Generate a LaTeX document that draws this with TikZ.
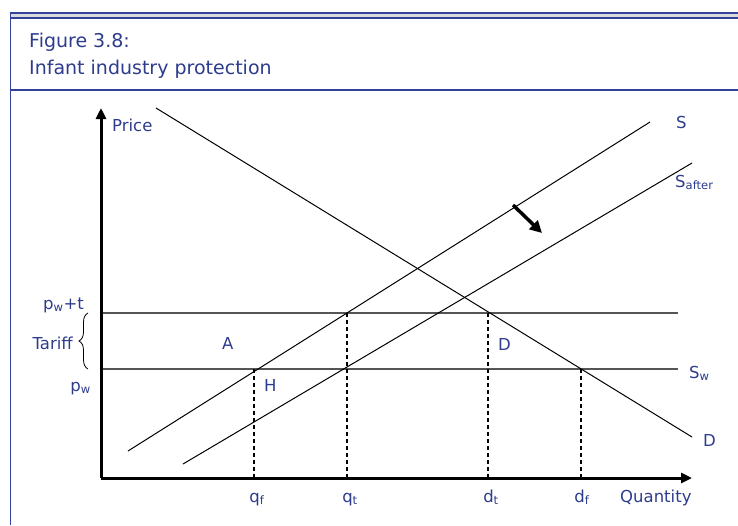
\documentclass[tikz,border=0pt]{standalone}
\usepackage{fontspec}
\setmainfont{DejaVu Sans}
\usetikzlibrary{arrows.meta,decorations.pathreplacing}
\definecolor{txtblue}{RGB}{45,60,140}
\definecolor{frameblue}{RGB}{50,65,155}
\definecolor{bandgray}{RGB}{218,218,218}
\definecolor{hgray}{RGB}{85,85,85}
\tikzset{
  lbl/.style={text=txtblue,font=\fontsize{16.5}{19}\selectfont,inner sep=0pt,anchor=base west},
  lblc/.style={lbl,anchor=base},
  lble/.style={lbl,anchor=base east},
  ttl/.style={text=txtblue,font=\fontsize{19}{22}\selectfont,inner sep=0pt,anchor=base west},
  curve/.style={black,line width=1pt},
  hline/.style={hgray,line width=1.5pt},
  dropline/.style={black,line width=2pt,dash pattern=on 4pt off 3pt},
  axis/.style={black,line width=3pt,-{Triangle[length=11pt,width=10pt]}},
  shiftarrow/.style={black,line width=3.5pt,-{Triangle[length=12pt,width=12pt]}},
  framebar/.style={frameblue,line width=1.2pt}
}
\begin{document}
\begin{tikzpicture}[x=1pt,y=-1pt]
\useasboundingbox (0,0) rectangle (738,525);
% frame
\fill[bandgray] (10,13) rectangle (738,18);
\draw[framebar] (10,13) -- (738,13);
\draw[framebar] (10,18) -- (738,18);
\draw[framebar] (10,90) -- (738,90);
\draw[framebar] (10.5,13) -- (10.5,525);
\node[ttl] (t1) at (29,47) {Figure 3.8:};
\node[ttl] (t2) at (29,74) {Infant industry protection};
% coordinates
\coordinate (O) at (101,478);
\coordinate (ytop) at (101,108);
\coordinate (xend) at (692,478);
\coordinate (Ds) at (156,108);
\coordinate (De) at (692,437);
\coordinate (Ss) at (128,451);
\coordinate (Se) at (650,122);
\coordinate (SAs) at (183,464);
\coordinate (SAe) at (692,163);
\coordinate (PTl) at (101,313);
\coordinate (PTr) at (678,313);
\coordinate (PWl) at (101,369);
\coordinate (PWr) at (678,369);
\coordinate (qfT) at (254,369);
\coordinate (qfB) at (254,478);
\coordinate (qtT) at (347,313);
\coordinate (qtB) at (347,478);
\coordinate (dtT) at (488,313);
\coordinate (dtB) at (488,478);
\coordinate (dfT) at (581,369);
\coordinate (dfB) at (581,478);
\coordinate (arA) at (513,205);
\coordinate (arB) at (542,233);
\coordinate (brB) at (88,369);
\coordinate (brT) at (88,313);
% horizontal price lines
\draw[hline] (PTl) -- (PTr);
\draw[hline] (PWl) -- (PWr);
% curves
\draw[curve] (Ds) -- (De);
\draw[curve] (Ss) -- (Se);
\draw[curve] (SAs) -- (SAe);
% drop lines
\draw[dropline] (qfT) -- (qfB);
\draw[dropline] (qtT) -- (qtB);
\draw[dropline] (dtT) -- (dtB);
\draw[dropline] (dfT) -- (dfB);
% axes
\draw[axis] (O) -- (ytop);
\draw[axis] (O) -- (xend);
% shift arrow
\draw[shiftarrow] (arA) -- (arB);
% brace
\draw[black,line width=0.8pt,decorate,decoration={brace,amplitude=9pt}] (brB) -- (brT);
% labels
\node[lbl] (price) at (112,131) {Price};
\node[lbl] (qty) at (620,502) {Quantity};
\node[lbl] (sl) at (676,128) {S};
\node[lbl] (sal) at (675,187) {S\textsubscript{after}};
\node[lbl] (swl) at (689,378) {S\textsubscript{w}};
\node[lbl] (dl) at (703,446) {D};
\node[lbl] (dinner) at (498,350) {D};
\node[lbl] (al) at (222,349) {A};
\node[lbl] (hl) at (264,391) {H};
\node[lble] (pwt) at (84,309) {p\textsubscript{w}+t};
\node[lble] (tariff) at (73,349) {Tariff};
\node[lble] (pw) at (91,391) {p\textsubscript{w}};
\node[lblc] (qf) at (257,502) {q\textsubscript{f}};
\node[lblc] (qt) at (350,502) {q\textsubscript{t}};
\node[lblc] (dt) at (491,502) {d\textsubscript{t}};
\node[lblc] (df) at (582,502) {d\textsubscript{f}};
\end{tikzpicture}
\end{document}
